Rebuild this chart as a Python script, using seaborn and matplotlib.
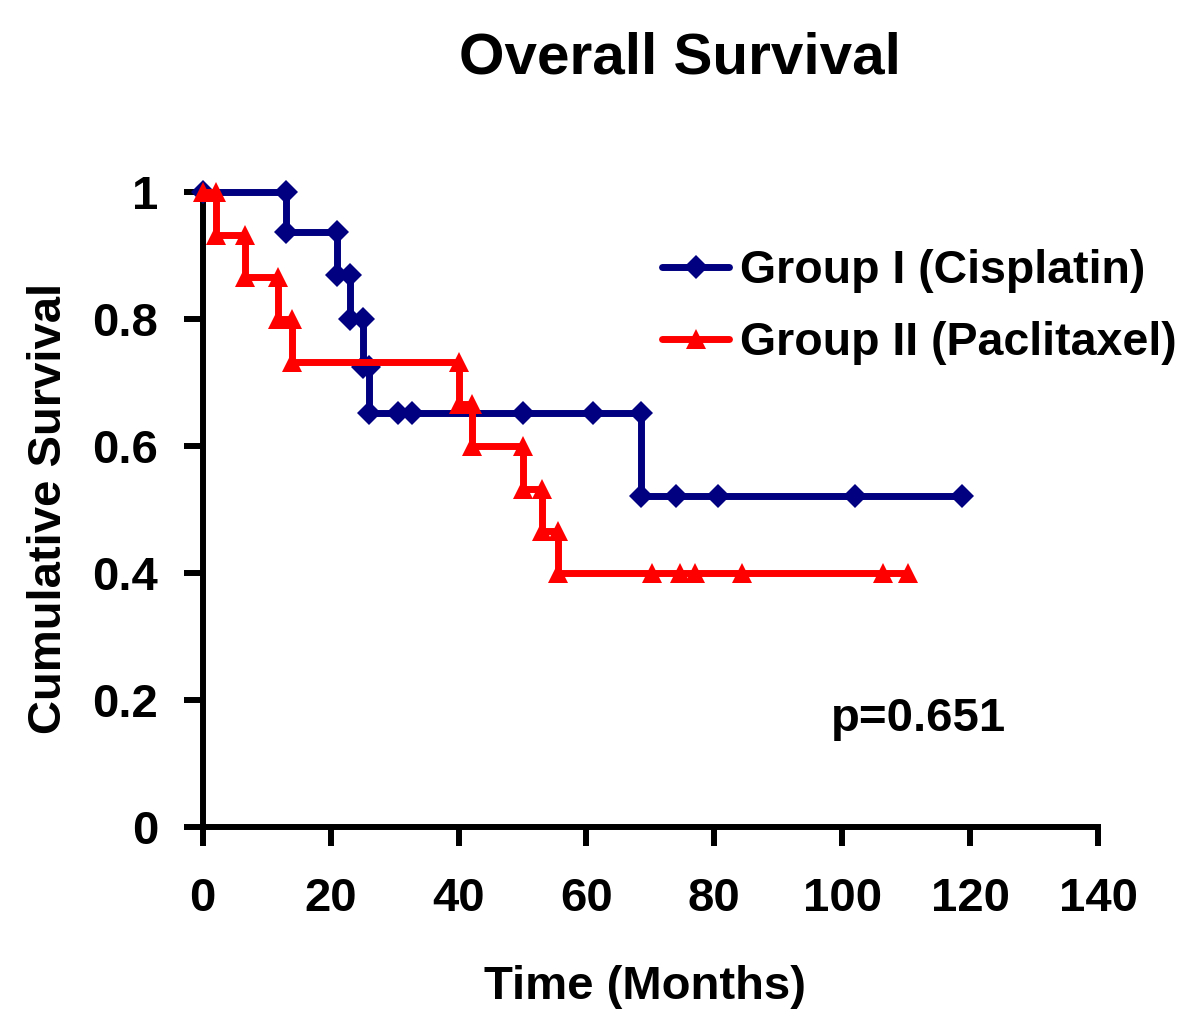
import matplotlib
matplotlib.use("Agg")
import matplotlib.pyplot as plt
import seaborn as sns
import pandas as pd

# Kaplan-Meier style step points
cis_months = [0, 13, 13, 21, 21, 23, 23, 25, 25, 26, 26, 30.5, 32.7, 50, 61, 68.5, 68.5, 74, 80.5, 102, 118.7]
cis_surv = [1, 1, 0.9375, 0.9375, 0.87, 0.87, 0.80, 0.80, 0.725, 0.725, 0.652, 0.652, 0.652, 0.652, 0.652,
            0.652, 0.522, 0.522, 0.522, 0.522, 0.522]

pac_months = [0, 2, 2, 6.6, 6.6, 11.7, 11.7, 13.9, 13.9, 40, 40, 42.1, 42.1, 50, 50, 53, 53, 55.5, 55.5,
              70.3, 74.6, 77, 84.4, 106.3, 110.3]
pac_surv = [1, 1, 0.933, 0.933, 0.867, 0.867, 0.8, 0.8, 0.733, 0.733, 0.667, 0.667, 0.6, 0.6, 0.533, 0.533,
            0.467, 0.467, 0.4, 0.4, 0.4, 0.4, 0.4, 0.4, 0.4]

group_labels = ["Group I (Cisplatin)", "Group II (Paclitaxel)"]
x_ticks = [0, 20, 40, 60, 80, 100, 120, 140]
y_ticks = [0, 0.2, 0.4, 0.6, 0.8, 1]
y_ticklabels = ["0", "0.2", "0.4", "0.6", "0.8", "1"]
p_text = "p=0.651"

sns.set_style("white")
plt.rcParams['font.family'] = ['Liberation Sans', 'DejaVu Sans']
plt.rcParams['font.weight'] = 'bold'
plt.rcParams['text.color'] = 'black'
plt.rcParams['xtick.color'] = 'black'
plt.rcParams['ytick.color'] = 'black'

fig = plt.figure(figsize=(12, 10.28), dpi=100)
ax = fig.add_axes([0.169, 0.1955, 0.746, 0.6175])

df_cis = pd.DataFrame({"Time": cis_months, "Survival": cis_surv})
df_pac = pd.DataFrame({"Time": pac_months, "Survival": pac_surv})

sns.lineplot(data=df_cis, x="Time", y="Survival", sort=False, estimator=None, ax=ax,
             color="#000080", marker="D", label=group_labels[0], clip_on=False, zorder=3)
sns.lineplot(data=df_pac, x="Time", y="Survival", sort=False, estimator=None, ax=ax,
             color="#FF0000", marker="^", label=group_labels[1], clip_on=False, zorder=4)

# seaborn sets its own line width / marker size, so set them on the artists
styles = [(5.0, 12), (5.0, 15)]
for line, (lw, ms) in zip(ax.lines, styles):
    line.set_linewidth(lw)
    line.set_markersize(ms)
    line.set_markeredgewidth(0)

ax.set_xlim(0, 140)
ax.set_ylim(0, 1)
ax.set_xticks(x_ticks)
ax.set_yticks(y_ticks)
ax.set_yticklabels(y_ticklabels)
ax.tick_params(axis="both", direction="out", length=14, width=4.3, labelsize=34, color="black",
               labelcolor="black", left=True, bottom=True)
ax.tick_params(axis="x", pad=22)
ax.tick_params(axis="y", pad=18)
for lab in ax.get_xticklabels() + ax.get_yticklabels():
    lab.set_fontweight("bold")

for side in ["top", "right"]:
    ax.spines[side].set_visible(False)
for side in ["left", "bottom"]:
    ax.spines[side].set_linewidth(4.3)
    ax.spines[side].set_color("black")

ax.set_xlabel("")
ax.set_ylabel("")
fig.text(0.5375, 0.04, "Time (Months)", ha="center", va="center", fontsize=34, fontweight="bold")
fig.text(0.041, 0.505, "Cumulative Survival", ha="center", va="center", rotation=90,
         fontsize=34, fontweight="bold")
fig.text(0.567, 0.943, "Overall Survival", ha="center", va="center", fontsize=42, fontweight="bold")

ax.text(112, 0.17, p_text, ha="center", va="center", fontsize=34, fontweight="bold")

leg = ax.legend(loc="upper left", bbox_to_anchor=(0.492, 0.94), frameon=False, fontsize=33.5,
                handlelength=1.45, handletextpad=0.22, labelspacing=0.6, borderaxespad=0)
for t in leg.get_texts():
    t.set_fontweight("bold")
for h, (lw, ms) in zip(leg.legend_handles, styles):
    h.set_linewidth(lw)
    h.set_markersize(ms)
    h.set_markeredgewidth(0)

fig.savefig("out.png", dpi=100)
